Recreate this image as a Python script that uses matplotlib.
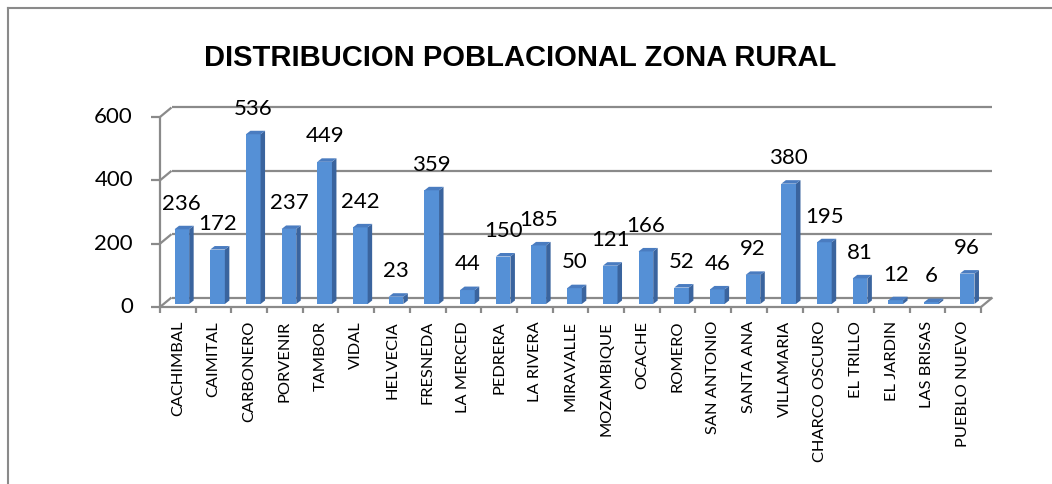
import matplotlib
matplotlib.use("Agg")
import matplotlib.pyplot as plt
from matplotlib.patches import Polygon, Rectangle
from matplotlib.lines import Line2D

categorias = ['CACHIMBAL', 'CAIMITAL', 'CARBONERO', 'PORVENIR', 'TAMBOR', 'VIDAL',
              'HELVECIA', 'FRESNEDA', 'LA MERCED', 'PEDRERA', 'LA RIVERA', 'MIRAVALLE',
              'MOZAMBIQUE', 'OCACHE', 'ROMERO', 'SAN ANTONIO', 'SANTA ANA', 'VILLAMARIA',
              'CHARCO OSCURO', 'EL TRILLO', 'EL JARDIN', 'LAS BRISAS', 'PUEBLO NUEVO']
poblacion = [236, 172, 536, 237, 449, 242, 23, 359, 44, 150, 185, 50,
             121, 166, 52, 46, 92, 380, 195, 81, 12, 6, 96]
yticks = [0, 200, 400, 600]
titulo = 'DISTRIBUCION POBLACIONAL ZONA RURAL'

W, H = 1052, 484
gris = '#8a8a8a'
frente = '#5590d6'
lado = '#3a649e'
arriba = '#4a7cc0'

fig = plt.figure(figsize=(W / 100, H / 100), dpi=100)
left, right, y0, y600 = 160, 981, 307, 117
ax = fig.add_axes([left / W, 1 - y0 / H, (right - left) / W, (y0 - y600) / H])
n = len(categorias)
ax.set_xlim(0, n)
ax.set_ylim(0, 600)
ax.axis('off')

# pixels -> data units
px_x = (right - left) / n
px_y = (y0 - y600) / 600.0
def dx(p):
    return p / px_x
def dy(p):
    return p / px_y

# depth of the 3d box
bx, by = dx(11.5), dy(9.5)
lk = dict(color=gris, lw=1.6, clip_on=False, solid_capstyle='butt')

# back wall gridlines + left side diagonals
for v in yticks:
    ax.plot([bx, n + bx], [v + by, v + by], zorder=1, **lk)
    ax.plot([0, bx], [v, v + by], zorder=1, **lk)
    ax.plot([0, -dx(9)], [v, v], zorder=1, **lk)
    ax.annotate(str(v), xy=(0, v), xytext=(-19.5, 0), textcoords='offset points',
                ha='right', va='center', fontsize=16, family='Lato')
# floor
ax.plot([0, n], [0, 0], zorder=1, **lk)
ax.plot([n, n + bx], [0, by], zorder=1, **lk)
# front y axis
ax.plot([0, 0], [0, 600], zorder=1, **lk)
# x ticks
for i in range(n + 1):
    ax.plot([i, i], [0, -dy(6)], zorder=1, **lk)

# bars
w = 0.41
ox, oy = dx(4), dy(3)
kx, ky = dx(4.5), dy(3.5)
for i, v in enumerate(poblacion):
    x1 = i + 0.5 - w / 2 + ox
    x2 = x1 + w
    ax.add_patch(Rectangle((x1, oy), w, v, facecolor=frente, edgecolor='none',
                           zorder=3, clip_on=False))
    ax.add_patch(Polygon([(x2, oy), (x2 + kx, oy + ky), (x2 + kx, oy + ky + v), (x2, oy + v)],
                         facecolor=lado, edgecolor='none', zorder=3, clip_on=False))
    ax.add_patch(Polygon([(x1, oy + v), (x2, oy + v), (x2 + kx, oy + ky + v), (x1 + kx, oy + ky + v)],
                         facecolor=arriba, edgecolor='none', zorder=3, clip_on=False))
    ax.annotate(str(v), xy=(i + 0.5 + ox, v + oy), xytext=(0, 18.5), textcoords='offset points',
                ha='center', va='center', fontsize=16, family='Lato', zorder=5)
    ax.annotate(categorias[i], xy=(i + 0.5, 0), xytext=(0, -10), textcoords='offset points',
                ha='center', va='top', rotation=90, fontsize=11.8, family='Lato')

fig.text(520 / W, 1 - 58 / H, titulo, ha='center', va='center', fontsize=21,
         fontweight='bold', family='Liberation Sans')

# outer frame of the chart
fig.add_artist(Line2D([8 / W, 8 / W], [0, 1 - 8 / H], color=gris, lw=1.5))
fig.add_artist(Line2D([8 / W, 1], [1 - 8 / H, 1 - 8 / H], color=gris, lw=1.5))

fig.savefig('out.png', dpi=100)
